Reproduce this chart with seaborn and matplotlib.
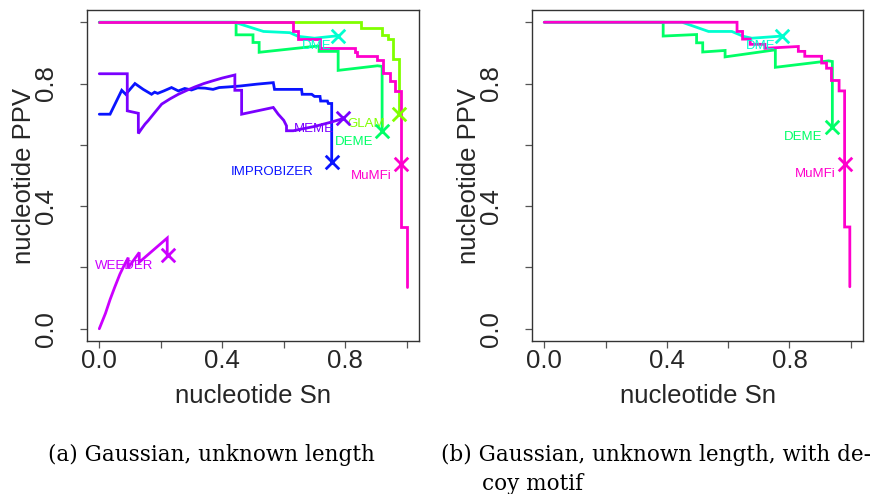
import matplotlib
matplotlib.use("Agg")
import matplotlib.pyplot as plt
import seaborn as sns
import pandas as pd

# ---------------- data ----------------
# panel (a)
mumfi_a_sn = [0, 0.629, 0.629, 0.647, 0.647, 0.718, 0.718, 0.832, 0.832, 0.838, 0.838, 0.902, 0.902,
              0.924, 0.924, 0.945, 0.945, 0.962, 0.962, 0.98, 0.98, 1.0, 1.0]
mumfi_a_ppv = [1.0, 1.0, 0.970, 0.970, 0.945, 0.945, 0.916, 0.916, 0.902, 0.902, 0.891, 0.891, 0.878,
               0.878, 0.834, 0.834, 0.808, 0.808, 0.776, 0.776, 0.332, 0.332, 0.137]
dme_a_sn = [0, 0.44, 0.534, 0.62, 0.647, 0.70, 0.776]
dme_a_ppv = [1.0, 1.0, 0.97, 0.966, 0.954, 0.948, 0.956]
deme_a_sn = [0, 0.445, 0.445, 0.50, 0.50, 0.52, 0.52, 0.715, 0.715, 0.777, 0.777, 0.905, 0.92, 0.92]
deme_a_ppv = [1.0, 1.0, 0.959, 0.959, 0.934, 0.934, 0.902, 0.923, 0.905, 0.905, 0.843, 0.858, 0.856, 0.645]
glam_a_sn = [0, 0.851, 0.851, 0.921, 0.921, 0.94, 0.94, 0.956, 0.956, 0.975, 0.975]
glam_a_ppv = [1.0, 1.0, 0.981, 0.981, 0.958, 0.958, 0.944, 0.944, 0.879, 0.879, 0.70]
improbizer_sn = [0, 0.035, 0.073, 0.086, 0.116, 0.143, 0.17, 0.18, 0.19, 0.21, 0.235, 0.257, 0.278,
                 0.30, 0.32, 0.344, 0.37, 0.39, 0.42, 0.458, 0.512, 0.566, 0.57, 0.658, 0.66, 0.691,
                 0.70, 0.718, 0.72, 0.742, 0.745, 0.756, 0.756]
improbizer_ppv = [0.70, 0.70, 0.778, 0.765, 0.80, 0.781, 0.765, 0.772, 0.768, 0.776, 0.787, 0.776, 0.784,
                  0.779, 0.786, 0.785, 0.781, 0.787, 0.789, 0.792, 0.798, 0.803, 0.781, 0.781, 0.765, 0.765,
                  0.758, 0.758, 0.743, 0.743, 0.735, 0.735, 0.545]
meme_sn = [0, 0.091, 0.091, 0.127, 0.127, 0.138, 0.149, 0.159, 0.18, 0.203, 0.23, 0.257, 0.285, 0.311,
           0.34, 0.366, 0.40, 0.441, 0.441, 0.463, 0.463, 0.566, 0.582, 0.60, 0.609, 0.609, 0.631, 0.66,
           0.70, 0.75, 0.794]
meme_ppv = [0.832, 0.832, 0.711, 0.703, 0.637, 0.653, 0.668, 0.679, 0.705, 0.733, 0.75, 0.765, 0.778,
            0.789, 0.80, 0.808, 0.818, 0.828, 0.778, 0.778, 0.70, 0.722, 0.70, 0.68, 0.662, 0.646, 0.646,
            0.652, 0.66, 0.673, 0.686]
weeder_sn = [0, 0.02, 0.035, 0.05, 0.067, 0.08, 0.094, 0.094, 0.13, 0.13, 0.221, 0.221]
weeder_ppv = [0, 0.05, 0.095, 0.135, 0.178, 0.205, 0.232, 0.199, 0.249, 0.217, 0.296, 0.239]

# panel (b)
mumfi_b_sn = [0, 0.629, 0.629, 0.647, 0.647, 0.672, 0.672, 0.72, 0.72, 0.829, 0.829, 0.85, 0.85, 0.905,
              0.905, 0.921, 0.921, 0.937, 0.937, 0.962, 0.962, 0.98, 0.98, 0.997, 0.997]
mumfi_b_ppv = [1.0, 1.0, 0.97, 0.97, 0.945, 0.945, 0.928, 0.928, 0.915, 0.921, 0.905, 0.905, 0.889, 0.889,
               0.867, 0.867, 0.85, 0.85, 0.81, 0.81, 0.776, 0.776, 0.332, 0.332, 0.137]
dme_b_sn = [0, 0.45, 0.536, 0.612, 0.65, 0.677, 0.777]
dme_b_ppv = [1.0, 1.0, 0.97, 0.97, 0.954, 0.948, 0.955]
deme_b_sn = [0, 0.388, 0.388, 0.497, 0.497, 0.517, 0.517, 0.59, 0.59, 0.754, 0.754, 0.928, 0.94, 0.94]
deme_b_ppv = [1.0, 1.0, 0.955, 0.96, 0.933, 0.933, 0.903, 0.908, 0.887, 0.91, 0.853, 0.874, 0.872, 0.659]

# default-threshold points (X markers)
methods_a = ["IMPROBIZER", "MEME", "WEEDER", "DME", "DEME", "GLAM", "MuMFi"]
mark_a_sn = [0.756, 0.794, 0.222, 0.776, 0.92, 0.975, 0.98]
mark_a_ppv = [0.545, 0.686, 0.239, 0.956, 0.645, 0.70, 0.538]
label_a_sn = [0.561, 0.698, 0.081, 0.707, 0.828, 0.867, 0.886]
label_a_ppv = [0.513, 0.653, 0.206, 0.922, 0.608, 0.669, 0.50]

methods_b = ["DME", "DEME", "MuMFi"]
mark_b_sn = [0.777, 0.94, 0.98]
mark_b_ppv = [0.955, 0.659, 0.538]
label_b_sn = [0.706, 0.845, 0.883]
label_b_ppv = [0.924, 0.624, 0.505]

colors = {"IMPROBIZER": "#0A14FF", "MEME": "#7A00FF", "WEEDER": "#CC00FF", "DME": "#00FFD0",
          "DEME": "#00FF66", "GLAM": "#80FF00", "MuMFi": "#FF00CC"}

x_ticks = [0.0, 0.2, 0.4, 0.6, 0.8, 1.0]
tick_labels = ["0.0", "", "0.4", "", "0.8", ""]

# ---------------- plotting ----------------
sns.set_theme(style="white")
plt.rcParams["font.family"] = ["Liberation Sans", "DejaVu Sans"]

fig = plt.figure(figsize=(8.74, 4.94), dpi=100)
axA = fig.add_axes([87 / 874, 1 - 341 / 494, 332 / 874, 331 / 494])
axB = fig.add_axes([532 / 874, 1 - 341 / 494, 331 / 874, 331 / 494])

curves_a = [("IMPROBIZER", improbizer_sn, improbizer_ppv), ("MEME", meme_sn, meme_ppv),
            ("WEEDER", weeder_sn, weeder_ppv), ("GLAM", glam_a_sn, glam_a_ppv),
            ("DEME", deme_a_sn, deme_a_ppv), ("DME", dme_a_sn, dme_a_ppv),
            ("MuMFi", mumfi_a_sn, mumfi_a_ppv)]
curves_b = [("DEME", deme_b_sn, deme_b_ppv), ("DME", dme_b_sn, dme_b_ppv),
            ("MuMFi", mumfi_b_sn, mumfi_b_ppv)]

LW = 2.0


def draw(ax, curves, methods, msn, mppv, lsn, lppv):
    for name, sn, ppv in curves:
        df = pd.DataFrame({"sn": sn, "ppv": ppv})
        sns.lineplot(data=df, x="sn", y="ppv", sort=False, estimator=None, color=colors[name],
                     linewidth=LW, ax=ax, solid_joinstyle="miter")
    for i, name in enumerate(methods):
        sns.scatterplot(x=[msn[i]], y=[mppv[i]], marker="x", s=95, color=colors[name],
                        linewidth=2.0, ax=ax, zorder=5)
        ax.text(lsn[i], lppv[i], name, color=colors[name], fontsize=9.5, ha="center", va="center")

    ax.set_xlim(-0.04, 1.04)
    ax.set_ylim(-0.04, 1.04)
    ax.set_xticks(x_ticks)
    ax.set_xticklabels(tick_labels)
    ax.set_yticks(x_ticks)
    ax.set_yticklabels(tick_labels, rotation=90, va="center")
    ax.tick_params(axis="both", direction="out", length=5, width=0.9, color="#555555",
                   labelsize=18.5, bottom=True, left=True)
    ax.tick_params(axis="x", pad=1)
    ax.tick_params(axis="y", pad=16)
    for s in ax.spines.values():
        s.set_color("#333333")
        s.set_linewidth(1.0)
    ax.set_xlabel("nucleotide Sn", fontsize=18.5, va="center")
    ax.set_ylabel("nucleotide PPV", fontsize=18.5, va="center")
    ax.xaxis.set_label_coords(0.5, -0.166)
    ax.yaxis.set_label_coords(-0.19, 0.5)


draw(axA, curves_a, methods_a, mark_a_sn, mark_a_ppv, label_a_sn, label_a_ppv)
draw(axB, curves_b, methods_b, mark_b_sn, mark_b_ppv, label_b_sn, label_b_ppv)

cap_font = dict(family=["DejaVu Serif"], fontsize=15.5, color="black")
fig.text(211 / 874, 1 - 455 / 494, "(a) Gaussian, unknown length", ha="center", va="center", **cap_font)
fig.text(441 / 874, 1 - 455 / 494, "(b) Gaussian, unknown length, with de-", ha="left", va="center", **cap_font)
fig.text(482 / 874, 1 - 484 / 494, "coy motif", ha="left", va="center", **cap_font)

fig.savefig("out.png", dpi=100)
